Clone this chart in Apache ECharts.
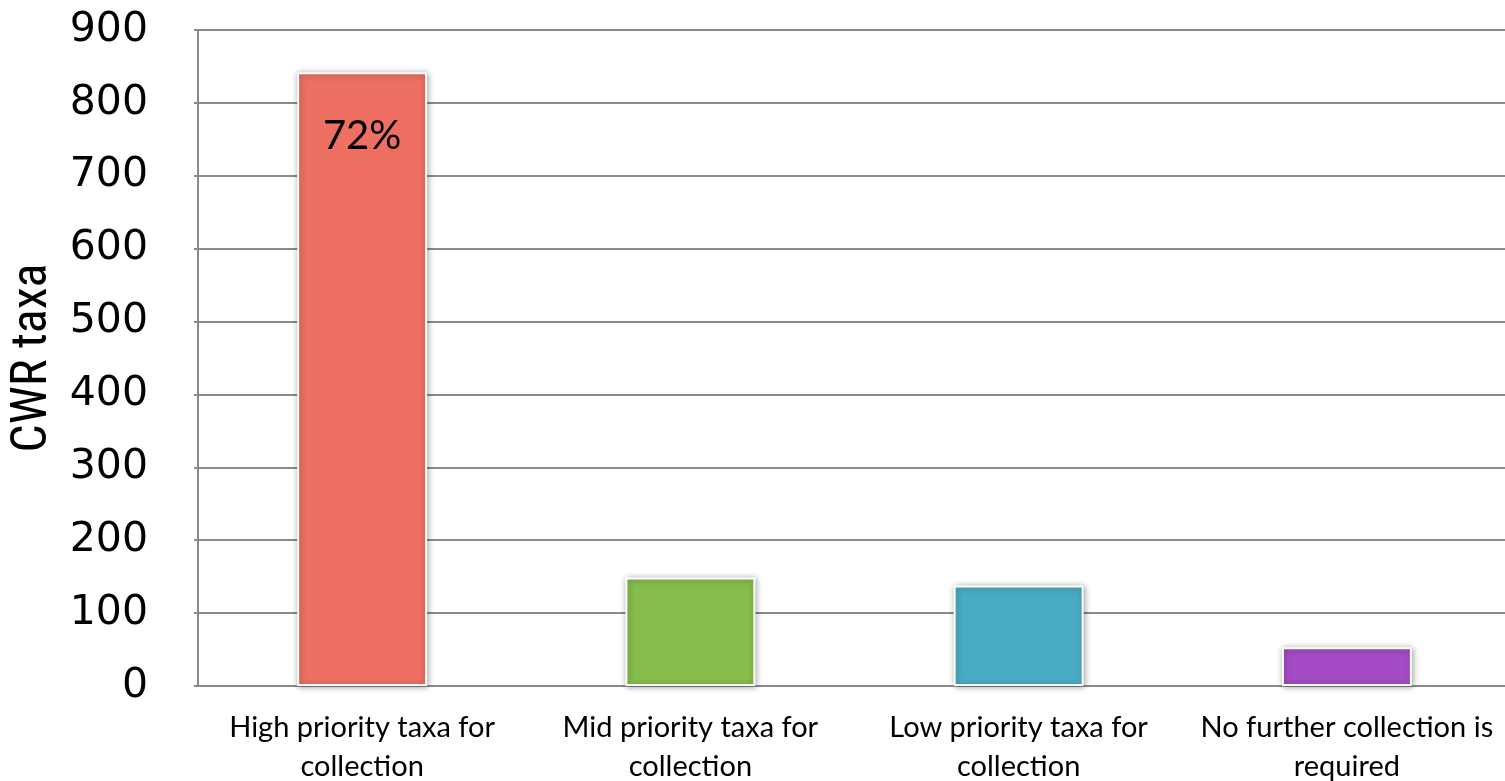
<!DOCTYPE html>
<html>
<head>
<meta charset="utf-8">
<script src="https://cdn.jsdelivr.net/npm/echarts@6/dist/echarts.min.js"></script>
<style>
  html, body { margin: 0; padding: 0; background: #fff; }
  #chart { width: 1505px; height: 781px; }
</style>
</head>
<body>
<div id="chart"></div>
<script>
// Collection priority of crop wild relative taxa
const categories = [
  'High priority taxa for\ncollection',
  'Mid priority taxa for\ncollection',
  'Low priority taxa for\ncollection',
  'No further collection is\nrequired'
];
const taxaCounts = [842, 149, 138, 53];
const barColors = ['#ED7062', '#86BD4B', '#4AABC5', '#A54BC8'];
const barLabels = ['72%', '', '', ''];

const chart = echarts.init(document.getElementById('chart'));

chart.setOption({
  animation: false,
  backgroundColor: '#ffffff',
  grid: { left: 198, right: -6, top: 30, bottom: 95, outerBoundsMode: 'none', containLabel: false },
  xAxis: {
    type: 'category',
    data: categories,
    axisLine: { show: true, lineStyle: { color: '#8a8a8a', width: 2 } },
    axisTick: { show: false },
    axisLabel: {
      color: '#000',
      fontFamily: 'Lato, "Open Sans", sans-serif',
      fontSize: 29,
      lineHeight: 39,
      margin: 22,
      interval: 0
    }
  },
  yAxis: {
    type: 'value',
    min: 0,
    max: 900,
    interval: 100,
    name: 'CWR taxa',
    nameLocation: 'middle',
    nameGap: 122,
    nameTextStyle: {
      color: '#000',
      fontFamily: '"Liberation Sans Narrow", "Roboto Condensed", "Liberation Sans", sans-serif',
      fontSize: 50
    },
    axisLine: { show: true, lineStyle: { color: '#8a8a8a', width: 2 } },
    axisTick: { show: true, inside: false, length: 4, lineStyle: { color: '#8a8a8a', width: 2 } },
    axisLabel: {
      color: '#000',
      fontFamily: '"DejaVu Sans", Verdana, sans-serif',
      fontSize: 41,
      margin: 50
    },
    splitLine: { show: true, lineStyle: { color: '#8a8a8a', width: 2 } }
  },
  series: [{
    type: 'bar',
    barWidth: 130,
    data: taxaCounts.map((v, i) => ({
      value: v,
      itemStyle: { color: barColors[i] },
      label: {
        show: barLabels[i] !== '',
        formatter: barLabels[i]
      }
    })),
    itemStyle: {
      borderColor: '#ffffff',
      borderWidth: 2,
      shadowColor: 'rgba(0,0,0,0.35)',
      shadowBlur: 6,
      shadowOffsetX: 1,
      shadowOffsetY: 1
    },
    label: {
      position: 'insideTop',
      distance: 44,
      color: '#000',
      fontFamily: 'Lato, "Open Sans", sans-serif',
      fontSize: 40
    }
  }]
});
</script>
</body>
</html>
